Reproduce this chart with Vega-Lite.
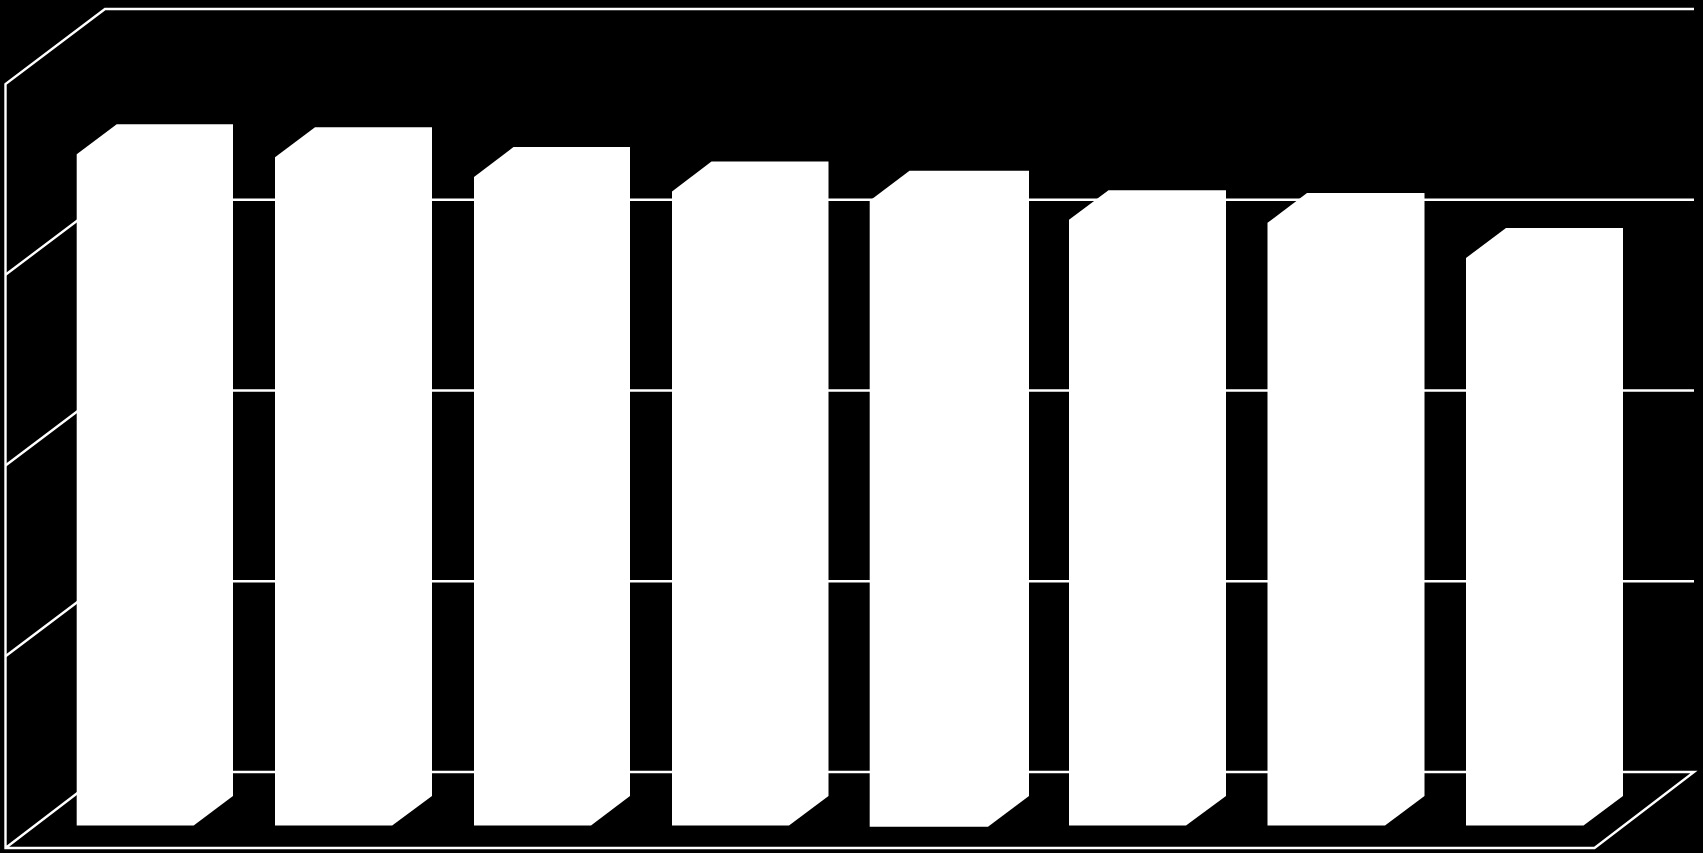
{"$schema":"https://vega.github.io/schema/vega-lite/v6.json","width":1703,"height":853,"padding":0,"autosize":{"type":"none"},"background":"#000000","view":{"stroke":null,"fill":"#000000"},"datasets":{"walls":[
{"path":"wall","seq":1,"x":105,"v":100},{"path":"wall","seq":0,"x":1694,"v":100},{"path":"wall","seq":2,"x":5.5,"v":90.17},{"path":"wall","seq":3,"x":5.5,"v":-9.96},{"path":"wall","seq":4,"x":1594.5,"v":-9.96},{"path":"wall","seq":5,"x":1694,"v":0},{"path":"wall","seq":6,"x":105,"v":0},{"path":"wall","seq":7,"x":5.5,"v":-9.96},
{"path":"g25","seq":0,"x":5.5,"v":15.17},{"path":"g25","seq":1,"x":105,"v":25},{"path":"g25","seq":2,"x":1694,"v":25},
{"path":"g50","seq":0,"x":5.5,"v":40.17},{"path":"g50","seq":1,"x":105,"v":50},{"path":"g50","seq":2,"x":1694,"v":50},
{"path":"g75","seq":0,"x":5.5,"v":65.17},{"path":"g75","seq":1,"x":105,"v":75},{"path":"g75","seq":2,"x":1694,"v":75}
],"bars":[
{"bar":"1","x":76.7,"top":80.97,"base":-7.01},{"bar":"1","x":116.7,"top":84.9,"base":-7.01},{"bar":"1","x":193.7,"top":84.9,"base":-7.01},{"bar":"1","x":233,"top":84.9,"base":-3.15},
{"bar":"2","x":275,"top":80.57,"base":-7.01},{"bar":"2","x":315,"top":84.5,"base":-7.01},{"bar":"2","x":392.2,"top":84.5,"base":-7.01},{"bar":"2","x":432,"top":84.5,"base":-3.15},
{"bar":"3","x":474,"top":77.97,"base":-7.01},{"bar":"3","x":513.5,"top":81.9,"base":-7.01},{"bar":"3","x":591,"top":81.9,"base":-7.01},{"bar":"3","x":630,"top":81.9,"base":-3.15},
{"bar":"4","x":672,"top":76.07,"base":-7.01},{"bar":"4","x":711.5,"top":80,"base":-7.01},{"bar":"4","x":789,"top":80,"base":-7.01},{"bar":"4","x":828.5,"top":80,"base":-3.15},
{"bar":"5","x":869.7,"top":74.87,"base":-7.17},{"bar":"5","x":909.5,"top":78.8,"base":-7.17},{"bar":"5","x":988,"top":78.8,"base":-7.17},{"bar":"5","x":1029,"top":78.8,"base":-3.15},
{"bar":"6","x":1069,"top":72.37,"base":-7.01},{"bar":"6","x":1108.5,"top":76.25,"base":-7.01},{"bar":"6","x":1186,"top":76.25,"base":-7.01},{"bar":"6","x":1226,"top":76.25,"base":-3.15},
{"bar":"7","x":1267.5,"top":71.97,"base":-7.01},{"bar":"7","x":1307,"top":75.9,"base":-7.01},{"bar":"7","x":1385,"top":75.9,"base":-7.01},{"bar":"7","x":1424.5,"top":75.9,"base":-3.15},
{"bar":"8","x":1466,"top":67.37,"base":-7.01},{"bar":"8","x":1506,"top":71.3,"base":-7.01},{"bar":"8","x":1583.5,"top":71.3,"base":-7.01},{"bar":"8","x":1623,"top":71.3,"base":-3.15}
]},"layer":[
{"data":{"name":"walls"},"mark":{"type":"line","stroke":"#ffffff","strokeWidth":2.4,"interpolate":"linear","clip":false},"encoding":{"x":{"field":"x","type":"quantitative","scale":{"domain":[0,1703],"nice":false,"zero":false},"axis":null},"y":{"field":"v","type":"quantitative","scale":{"domain":[-10.616,101.18],"nice":false,"zero":false},"axis":null},"detail":{"field":"path","type":"nominal"},"order":{"field":"seq","type":"quantitative"}}},
{"data":{"name":"bars"},"mark":{"type":"area","fill":"#ffffff","interpolate":"linear"},"encoding":{"x":{"field":"x","type":"quantitative","scale":{"domain":[0,1703],"nice":false,"zero":false},"axis":null},"y":{"field":"top","type":"quantitative","scale":{"domain":[-10.616,101.18],"nice":false,"zero":false},"axis":null},"y2":{"field":"base"},"detail":{"field":"bar","type":"nominal"}}}
]}
